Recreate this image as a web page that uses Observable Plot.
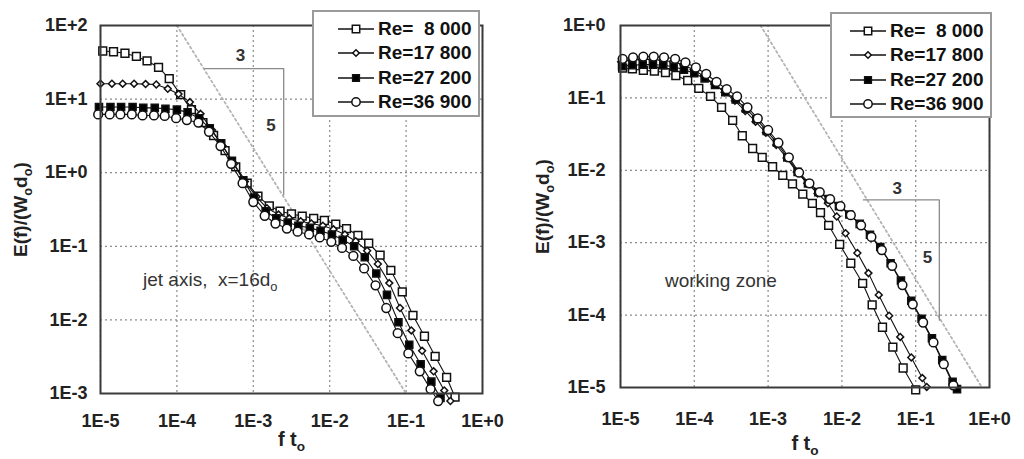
<!DOCTYPE html>
<html>
<head>
<meta charset="utf-8">
<script src="https://cdn.jsdelivr.net/npm/d3@7"></script>
<script src="https://cdn.jsdelivr.net/npm/@observablehq/plot@0.6"></script>
<style>
  html, body { margin: 0; padding: 0; background: #fff; }
  #wrap { position: relative; width: 1024px; height: 459px; overflow: hidden; font-family: "Liberation Sans", Arial, sans-serif; }
  .panel { position: absolute; top: 0; }
  .legend { position: absolute; background: #fff; border: 2px solid #9a9a9a; box-sizing: border-box; }
  .row { position: absolute; height: 24px; display: flex; align-items: center; white-space: pre; font-weight: bold; font-size: 19px; color: #111; }
  .row svg { margin-right: 4px; }
</style>
</head>
<body>
<div id="wrap">
  <div id="left" class="panel" style="left:0px"></div>
  <div id="right" class="panel" style="left:512px"></div>
</div>
<script>
// ---------- shared axes ----------
const xTicks = [1e-5, 1e-4, 1e-3, 1e-2, 1e-1, 1];
const xTickLabels = ["1E-5", "1E-4", "1E-3", "1E-2", "1E-1", "1E+0"];
const yTicksJet = [1e-3, 1e-2, 1e-1, 1, 10, 100];
const yTickLabelsJet = ["1E-3", "1E-2", "1E-1", "1E+0", "1E+1", "1E+2"];
const yTicksWork = [1e-5, 1e-4, 1e-3, 1e-2, 1e-1, 1];
const yTickLabelsWork = ["1E-5", "1E-4", "1E-3", "1E-2", "1E-1", "1E+0"];
const reLabels = ["Re=  8 000", "Re=17 800", "Re=27 200", "Re=36 900"];
const xTitle = "f t_o";
const yTitle = "E(f)/(W_od_o)";
const jetNote = "jet axis,  x=16d_o";
const workNote = "working zone";

// ---------- jet axis panel ----------
const jet8000F = [1.07e-5,1.48e-5,2.09e-5,2.95e-5,4.07e-5,5.75e-5,7.94e-5,1.12e-4,1.55e-4,2.19e-4,3.02e-4,4.27e-4,5.89e-4,8.32e-4,1.15e-3,1.62e-3,2.24e-3,3.16e-3,4.37e-3,6.17e-3,8.51e-3,1.20e-2,1.66e-2,2.34e-2,3.24e-2,4.57e-2,6.31e-2,8.91e-2,0.123,0.174,0.240,0.339,0.437];
const jet8000E = [45,44,42,38,33,27,19,11.5,7.2,4.8,3.2,2.0,1.2,0.72,0.48,0.355,0.30,0.275,0.257,0.24,0.224,0.20,0.174,0.141,0.110,0.076,0.047,0.024,0.0115,0.0060,0.0032,0.00166,0.00089];
const jet17800F = [1.00e-5,1.41e-5,1.95e-5,2.75e-5,3.89e-5,5.37e-5,7.59e-5,1.05e-4,1.48e-4,2.04e-4,2.88e-4,3.98e-4,5.62e-4,7.76e-4,1.10e-3,1.51e-3,2.14e-3,2.95e-3,4.17e-3,5.75e-3,8.13e-3,1.12e-2,1.58e-2,2.19e-2,3.09e-2,4.27e-2,6.03e-2,8.32e-2,0.117,0.162,0.229,0.316,0.380];
const jet17800E = [16.2,16.2,16.2,16.2,16.0,15.8,13.8,11.7,9.1,6.3,3.8,2.3,1.32,0.76,0.47,0.33,0.27,0.24,0.219,0.204,0.19,0.17,0.145,0.117,0.087,0.0575,0.0316,0.0145,0.0072,0.0038,0.0020,0.0011,0.00079];
const jet27200F = [9.55e-6,1.35e-5,1.86e-5,2.63e-5,3.63e-5,5.13e-5,7.08e-5,1.00e-4,1.38e-4,1.95e-4,2.69e-4,3.80e-4,5.25e-4,7.41e-4,1.02e-3,1.45e-3,2.00e-3,2.82e-3,3.89e-3,5.50e-3,7.59e-3,1.07e-2,1.48e-2,2.09e-2,2.88e-2,4.07e-2,5.62e-2,7.94e-2,0.110,0.155,0.214,0.282];
const jet27200E = [7.8,7.8,7.8,7.8,7.6,7.6,7.4,7.2,6.6,5.5,4.0,2.5,1.45,0.79,0.46,0.30,0.24,0.21,0.19,0.178,0.162,0.145,0.123,0.100,0.071,0.0427,0.0219,0.0093,0.0046,0.0025,0.00145,0.00087];
const jet36900F = [9.33e-6,1.32e-5,1.82e-5,2.57e-5,3.55e-5,5.01e-5,6.92e-5,9.77e-5,1.35e-4,1.91e-4,2.63e-4,3.72e-4,5.13e-4,7.24e-4,1.00e-3,1.41e-3,1.95e-3,2.75e-3,3.80e-3,5.37e-3,7.41e-3,1.05e-2,1.45e-2,2.04e-2,2.82e-2,3.98e-2,5.50e-2,7.76e-2,0.107,0.151,0.209,0.263];
const jet36900E = [6.2,6.2,6.2,6.2,6.0,6.0,5.9,5.5,5.2,4.8,3.6,2.3,1.32,0.72,0.40,0.26,0.204,0.174,0.158,0.145,0.132,0.115,0.095,0.074,0.050,0.0295,0.0145,0.0066,0.0035,0.0020,0.00115,0.00079];
const jetRefF = [1e-4, 1e-1];
const jetRefE = [100, 1e-3];
const jetTriF = [2.3e-4, 2.5e-3, 2.5e-3];
const jetTriE = [26, 26, 0.5];

// ---------- working zone panel ----------
const work8000F = [1.07e-5,1.45e-5,2.04e-5,2.88e-5,4.07e-5,5.62e-5,8.13e-5,1.15e-4,1.66e-4,2.34e-4,3.31e-4,4.47e-4,6.17e-4,8.32e-4,1.15e-3,1.58e-3,2.14e-3,2.95e-3,3.98e-3,5.13e-3,6.61e-3,9.33e-3,1.32e-2,1.91e-2,2.57e-2,3.55e-2,4.90e-2,6.76e-2,0.100];
const work8000E = [0.257,0.251,0.240,0.234,0.224,0.204,0.174,0.135,0.105,0.074,0.049,0.030,0.020,0.0151,0.0112,0.0085,0.0065,0.0047,0.0035,0.0026,0.00174,0.00095,0.00052,0.000275,0.000138,6.8e-5,3.6e-5,1.86e-5,9.3e-6];
const work17800F = [1.02e-5,1.41e-5,1.95e-5,2.69e-5,3.72e-5,5.13e-5,7.08e-5,9.77e-5,1.35e-4,1.86e-4,2.57e-4,3.55e-4,4.90e-4,6.76e-4,9.33e-4,1.29e-3,1.78e-3,2.45e-3,3.39e-3,4.68e-3,6.46e-3,8.51e-3,1.12e-2,1.62e-2,2.29e-2,3.16e-2,4.37e-2,6.17e-2,8.71e-2,0.123,0.141];
const work17800E = [0.316,0.331,0.339,0.339,0.331,0.316,0.288,0.245,0.200,0.155,0.120,0.091,0.066,0.047,0.033,0.0224,0.0148,0.0095,0.0066,0.0048,0.0035,0.0023,0.00135,0.00072,0.00038,0.00019,9.8e-5,5.0e-5,2.6e-5,1.35e-5,1.02e-5];
const work27200F = [1.05e-5,1.45e-5,2.00e-5,2.75e-5,3.80e-5,5.25e-5,7.24e-5,1.00e-4,1.38e-4,1.91e-4,2.63e-4,3.63e-4,5.01e-4,6.92e-4,9.55e-4,1.32e-3,1.82e-3,2.51e-3,3.47e-3,4.79e-3,6.61e-3,9.12e-3,1.26e-2,1.74e-2,2.40e-2,3.31e-2,4.57e-2,6.31e-2,8.71e-2,0.120,0.166,0.229,0.316,0.363];
const work27200E = [0.275,0.282,0.288,0.288,0.282,0.269,0.245,0.219,0.186,0.151,0.120,0.095,0.071,0.051,0.035,0.024,0.0151,0.0095,0.0066,0.0050,0.0040,0.0032,0.00245,0.00182,0.00129,0.00087,0.00052,0.00030,0.000158,8.9e-5,4.8e-5,2.4e-5,1.2e-5,9.5e-6];
const work36900F = [1.07e-5,1.48e-5,2.04e-5,2.82e-5,3.89e-5,5.50e-5,7.59e-5,1.05e-4,1.45e-4,2.00e-4,2.75e-4,3.80e-4,5.25e-4,7.24e-4,1.00e-3,1.38e-3,1.91e-3,2.63e-3,3.63e-3,5.01e-3,6.92e-3,9.55e-3,1.32e-2,1.82e-2,2.51e-2,3.47e-2,4.79e-2,6.61e-2,9.12e-2,0.126,0.174,0.240,0.324];
const work36900E = [0.347,0.363,0.372,0.372,0.363,0.347,0.309,0.263,0.214,0.166,0.132,0.105,0.074,0.052,0.036,0.024,0.0151,0.0093,0.0066,0.0050,0.0040,0.0032,0.0024,0.00174,0.0012,0.00079,0.00048,0.00026,0.000141,7.9e-5,4.2e-5,2.1e-5,1.07e-5];
const workRefF = [7.9e-4, 0.79];
const workRefE = [1, 1e-5];
const workTriF = [0.0195, 0.209, 0.209];
const workTriE = [0.0039, 0.0039, 8.5e-5];

// ---------- helpers ----------
const zip = (f, e) => f.map((v, i) => ({f: v, e: e[i]}));
const symbols = [
  {symbol: "square", r: 4.4, fill: "white"},
  {symbol: "diamond2", r: 3.1, fill: "white"},
  {symbol: "square", r: 4.0, fill: "black"},
  {symbol: "circle", r: 4.4, fill: "white"}
];
const FONT = "'Liberation Sans', Arial, sans-serif";

function seriesMarks(series) {
  const marks = [];
  series.forEach((s, i) => {
    const data = zip(s[0], s[1]);
    marks.push(Plot.line(data, {x: "f", y: "e", stroke: "#111", strokeWidth: 1.1}));
    marks.push(Plot.dot(data, {x: "f", y: "e", symbol: symbols[i].symbol, r: symbols[i].r,
      fill: symbols[i].fill, stroke: "#111", strokeWidth: 1.5}));
  });
  return marks;
}

function subscriptify(svg) {
  d3.select(svg).selectAll("text").each(function () {
    const t = this.textContent;
    if (!t.includes("_o")) return;
    const parts = t.split("_o");
    const el = d3.select(this);
    el.text(null);
    parts.forEach((p, i) => {
      const ts = el.append("tspan").text(p);
      if (i > 0) ts.attr("dy", -5);
      if (i < parts.length - 1) {
        el.append("tspan").text("o").attr("font-size", "68%").attr("dy", 5);
      }
    });
  });
}

function panel(cfg) {
  const fmtX = d => xTickLabels[xTicks.indexOf(d)];
  const fmtY = d => cfg.yLabels[cfg.yTicks.indexOf(d)];
  const svg = Plot.plot({
    width: 512, height: 459,
    marginLeft: cfg.ml, marginRight: cfg.mr, marginTop: 25, marginBottom: cfg.mb,
    style: {fontFamily: FONT, background: "white", overflow: "visible"},
    x: {type: "log", domain: [1e-5, 1], label: null},
    y: {type: "log", domain: cfg.yDomain, label: null},
    marks: [
      Plot.gridX(xTicks, {stroke: "#8c8c8c", strokeOpacity: 1, strokeDasharray: "2,3", strokeWidth: 1.2}),
      Plot.gridY(cfg.yTicks, {stroke: "#8c8c8c", strokeOpacity: 1, strokeDasharray: "2,3", strokeWidth: 1.2}),
      Plot.line(zip(cfg.refF, cfg.refE), {x: "f", y: "e", stroke: "#b3b3b3", strokeWidth: 1.8, strokeDasharray: "2,3"}),
      Plot.line(zip(cfg.triF, cfg.triE), {x: "f", y: "e", stroke: "#8a8a8a", strokeWidth: 1.3}),
      Plot.text(["3"], {x: cfg.t3[0], y: cfg.t3[1], text: d => d, fontSize: 17, fontWeight: "bold", fill: "#333"}),
      Plot.text(["5"], {x: cfg.t5[0], y: cfg.t5[1], text: d => d, fontSize: 17, fontWeight: "bold", fill: "#333"}),
      ...seriesMarks(cfg.series),
      Plot.frame({stroke: "#3a3a3a", strokeWidth: 2}),
      Plot.axisX({ticks: xTicks, tickFormat: fmtX, tickSize: 0, tickPadding: cfg.xPad, fontSize: 18, fontWeight: "bold", fill: "#222", label: null}),
      Plot.axisY({ticks: cfg.yTicks, tickFormat: fmtY, tickSize: 0, tickPadding: cfg.yPad, fontSize: 18, fontWeight: "bold", fill: "#222", label: null}),
      Plot.text([cfg.note], {x: cfg.noteAt[0], y: cfg.noteAt[1], text: d => d, textAnchor: "start", fontSize: 19, fill: "#333"}),
      Plot.text([xTitle], {frameAnchor: "bottom", dy: cfg.xTitleDy, lineAnchor: "middle", textAnchor: "middle", text: d => d, fontSize: 20, fontWeight: "bold", fill: "#222"}),
      Plot.text([yTitle], {frameAnchor: "left", dx: cfg.yTitleDx, rotate: -90, textAnchor: "middle", lineAnchor: "middle", text: d => d, fontSize: 19, fontWeight: "bold", fill: "#222"})
    ]
  });
  subscriptify(svg);
  return svg;
}

document.getElementById("left").appendChild(panel({
  ml: 100, mr: 30, mb: 66, xPad: 21, yPad: 13, xTitleDy: 46, yTitleDx: -80,
  yDomain: [1e-3, 100], yTicks: yTicksJet, yLabels: yTickLabelsJet,
  refF: jetRefF, refE: jetRefE, triF: jetTriF, triE: jetTriE,
  t3: [6.8e-4, 39], t5: [1.7e-3, 4.4],
  note: jetNote, noteAt: [3.6e-5, 0.035],
  series: [[jet8000F, jet8000E], [jet17800F, jet17800E], [jet27200F, jet27200E], [jet36900F, jet36900E]]
}));

document.getElementById("right").appendChild(panel({
  ml: 108, mr: 35, mb: 72, xPad: 25, yPad: 15, xTitleDy: 56, yTitleDx: -78,
  yDomain: [1e-5, 1], yTicks: yTicksWork, yLabels: yTickLabelsWork,
  refF: workRefF, refE: workRefE, triF: workTriF, triE: workTriE,
  t3: [0.056, 0.0056], t5: [0.145, 6.3e-4],
  note: workNote, noteAt: [4.0e-5, 3.0e-4],
  series: [[work8000F, work8000E], [work17800F, work17800E], [work27200F, work27200E], [work36900F, work36900E]]
}));

// ---------- legends (HTML overlays) ----------
function legend(left, top, w, h, symX, textX) {
  const box = document.createElement("div");
  box.className = "legend";
  Object.assign(box.style, {left: left + "px", top: top + "px", width: w + "px", height: h + "px"});
  reLabels.forEach((lab, i) => {
    const row = document.createElement("div");
    row.className = "row";
    Object.assign(row.style, {left: symX + "px", top: (5 + i * 24.3) + "px"});
    const w2 = textX - symX - 4;
    const s = d3.create("svg").attr("width", w2).attr("height", 24);
    s.append("line").attr("x1", 0).attr("x2", w2).attr("y1", 12).attr("y2", 12).attr("stroke", "#111").attr("stroke-width", 1.6);
    const sym = d3.symbol().type({square: d3.symbolSquare, diamond2: d3.symbolDiamond2, circle: d3.symbolCircle}[symbols[i].symbol])
      .size(symbols[i].r * symbols[i].r * Math.PI * 0.9);
    s.append("path").attr("d", sym()).attr("transform", `translate(${w2 / 2},12)`)
      .attr("fill", symbols[i].fill).attr("stroke", "#111").attr("stroke-width", 1.5);
    row.appendChild(s.node());
    const span = document.createElement("span");
    span.textContent = lab;
    row.appendChild(span);
    box.appendChild(row);
  });
  document.getElementById("wrap").appendChild(box);
}
legend(312, 10, 168, 107, 24, 64);
legend(830, 12, 162, 106, 18, 58);
</script>
</body>
</html>
